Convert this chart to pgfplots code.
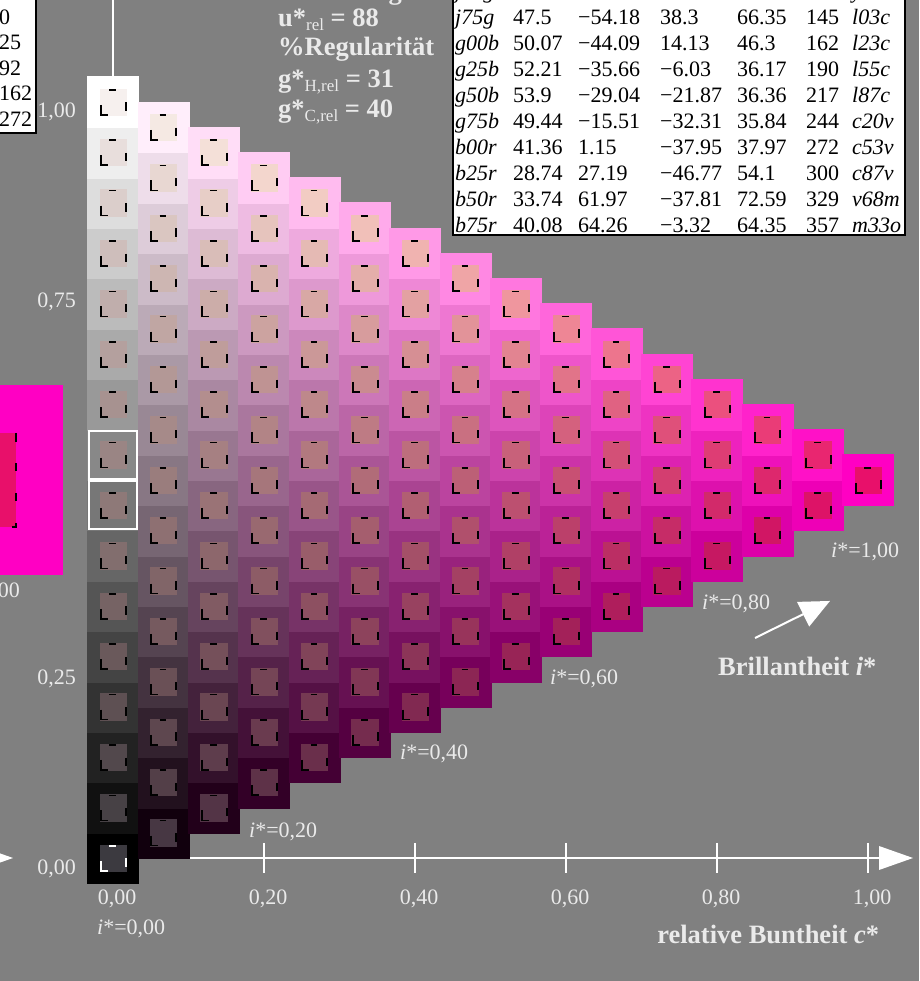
\documentclass[border=0pt]{standalone}
\usepackage{fontspec}
\setmainfont{Liberation Serif}
\usepackage{array}
\usepackage{pgfplots}
\pgfplotsset{compat=1.18}
\usepackage{pgfplotstable}
\usetikzlibrary{arrows.meta}

\definecolor{bggray}{RGB}{128,128,128}
\definecolor{magM}{RGB}{255,0,195}
\definecolor{magI}{RGB}{232,16,106}
\definecolor{txt}{RGB}{234,234,234}

\newcommand\fsA{\fontsize{22}{25.9}\selectfont}
\newcommand\fsL{\fontsize{22}{25.5}\selectfont}
\newcommand\fsB{\fontsize{26.5}{29}\selectfont\bfseries}
\newcommand\sub[1]{\raisebox{-4pt}{\fontsize{17}{17}\selectfont\mdseries #1}}

\pgfdeclareplotmark{reg}{%
  \pgfsetlinewidth{1.7pt}\pgfsetbuttcap
  \pgfpathmoveto{\pgfpoint{-3.7pt}{12.2pt}}\pgfpathlineto{\pgfpoint{3pt}{12.2pt}}%
  \pgfpathmoveto{\pgfpoint{-12pt}{-2.8pt}}\pgfpathlineto{\pgfpoint{-12pt}{-12.8pt}}\pgfpathlineto{\pgfpoint{-5pt}{-12.8pt}}%
  \pgfpathmoveto{\pgfpoint{13pt}{-0.5pt}}\pgfpathlineto{\pgfpoint{13pt}{-8.8pt}}%
  \pgfusepathqstroke
}

% cells: j = chroma step (c = j/15), u = lightness step (t = u/15)
\pgfplotstableread[row sep=\\]{
j u\\
0 0\\ 0 1\\ 0 2\\ 0 3\\ 0 4\\ 0 5\\ 0 6\\ 0 7\\ 0 8\\ 0 9\\ 0 10\\ 0 11\\ 0 12\\ 0 13\\ 0 14\\ 0 15\\
1 0.5\\ 1 1.5\\ 1 2.5\\ 1 3.5\\ 1 4.5\\ 1 5.5\\ 1 6.5\\ 1 7.5\\ 1 8.5\\ 1 9.5\\ 1 10.5\\ 1 11.5\\ 1 12.5\\ 1 13.5\\ 1 14.5\\
2 1\\ 2 2\\ 2 3\\ 2 4\\ 2 5\\ 2 6\\ 2 7\\ 2 8\\ 2 9\\ 2 10\\ 2 11\\ 2 12\\ 2 13\\ 2 14\\
3 1.5\\ 3 2.5\\ 3 3.5\\ 3 4.5\\ 3 5.5\\ 3 6.5\\ 3 7.5\\ 3 8.5\\ 3 9.5\\ 3 10.5\\ 3 11.5\\ 3 12.5\\ 3 13.5\\
4 2\\ 4 3\\ 4 4\\ 4 5\\ 4 6\\ 4 7\\ 4 8\\ 4 9\\ 4 10\\ 4 11\\ 4 12\\ 4 13\\
5 2.5\\ 5 3.5\\ 5 4.5\\ 5 5.5\\ 5 6.5\\ 5 7.5\\ 5 8.5\\ 5 9.5\\ 5 10.5\\ 5 11.5\\ 5 12.5\\
6 3\\ 6 4\\ 6 5\\ 6 6\\ 6 7\\ 6 8\\ 6 9\\ 6 10\\ 6 11\\ 6 12\\
7 3.5\\ 7 4.5\\ 7 5.5\\ 7 6.5\\ 7 7.5\\ 7 8.5\\ 7 9.5\\ 7 10.5\\ 7 11.5\\
8 4\\ 8 5\\ 8 6\\ 8 7\\ 8 8\\ 8 9\\ 8 10\\ 8 11\\
9 4.5\\ 9 5.5\\ 9 6.5\\ 9 7.5\\ 9 8.5\\ 9 9.5\\ 9 10.5\\
10 5\\ 10 6\\ 10 7\\ 10 8\\ 10 9\\ 10 10\\
11 5.5\\ 11 6.5\\ 11 7.5\\ 11 8.5\\ 11 9.5\\
12 6\\ 12 7\\ 12 8\\ 12 9\\
13 6.5\\ 13 7.5\\ 13 8.5\\
14 7\\ 14 8\\
15 7.5\\
}\cells

\begin{document}
\begin{tikzpicture}
\begin{axis}[
  width=919pt, height=981pt, scale only axis,
  xmin=-2.2452, xmax=16.0132, ymin=-2.4405, ymax=17.0238,
  hide axis, clip=true,
]
\fill[bggray] (rel axis cs:0,0) rectangle (rel axis cs:1,1);

% swatch of the neighbouring chart at the left edge
\fill[magM] (axis cs:-2.6,5.615) rectangle (axis cs:-0.993,9.385);
\fill[magI] (axis cs:-2.6,6.567) rectangle (axis cs:-1.927,8.433);
\draw[black, line width=1.7pt] (axis cs:-1.927,8.433) -- (axis cs:-1.927,8.254)
  (axis cs:-1.927,7.837) -- (axis cs:-1.927,7.679)
  (axis cs:-1.927,7.242) -- (axis cs:-1.927,7.083)
  (axis cs:-1.927,6.65) -- (axis cs:-1.927,6.567) -- (axis cs:-2.0,6.567);

% outer squares: output colours
\addplot[scatter, only marks, mark=square*, mark size=25.4pt,
  visualization depends on={x \as \cj},
  visualization depends on={y \as \cu},
  scatter/@pre marker code/.code={%
    \scope
    \pgfkeys{/pgf/fpu=false}%
    \pgfmathsetmacro\cc{\cj/15}%
    \pgfmathsetmacro\ww{(\cu-\cj/2)/15}%
    \pgfmathsetmacro\mcR{min(1,max(0,\cc+\ww))}%
    \pgfmathsetmacro\mcG{min(1,max(0,\ww))}%
    \pgfmathsetmacro\mcB{min(1,max(0,0.765*\cc+\ww))}%
    \definecolor{mc}{rgb}{\mcR,\mcG,\mcB}%
    \pgfsetcolor{mc}%
  },
  scatter/@post marker code/.code={\endscope},
] table[x=j,y=u] {\cells};

% inner squares: measured colours
\addplot[scatter, only marks, mark=square*, mark size=13.2pt,
  visualization depends on={x \as \cj},
  visualization depends on={y \as \cu},
  scatter/@pre marker code/.code={%
    \scope
    \pgfkeys{/pgf/fpu=false}%
    \pgfmathsetmacro\cc{\cj/15}%
    \pgfmathsetmacro\ww{(\cu-\cj/2)/15}%
    \pgfmathsetmacro\nn{1-\cc-\ww}%
    \pgfmathsetmacro\mcR{min(1,max(0,(\cc*232+\ww*246+\nn*60-20*\ww*\nn)/255))}%
    \pgfmathsetmacro\mcG{min(1,max(0,(\cc*16+\ww*240+\nn*58-88*\ww*\nn+120*\cc*\ww)/255))}%
    \pgfmathsetmacro\mcB{min(1,max(0,(\cc*106+\ww*238+\nn*64-100*\ww*\nn-40*\cc*\ww)/255))}%
    \definecolor{mc}{rgb}{\mcR,\mcG,\mcB}%
    \pgfsetcolor{mc}%
  },
  scatter/@post marker code/.code={\endscope},
] table[x=j,y=u] {\cells};

% registration marks
\addplot[only marks, mark=reg, black] table[x=j,y=u] {\cells};
\addplot[only marks, mark=reg, white] coordinates {(0,0)};

% frames
\addplot[only marks, mark=square, mark size=24.2pt, mark options={draw=white, line width=2pt}] coordinates {(0,7) (0,8)};

% axes
\draw[white, line width=1.3pt] (axis cs:0,15.5) -- (axis cs:0,17.3);
\draw[white, line width=2pt] (axis cs:1.5,0) -- (axis cs:15.4,0);
\fill[white] (axis cs:15.894,0) -- (axis cs:15.219,0.238) -- (axis cs:15.219,-0.238) -- cycle;
\fill[white] (axis cs:-1.987,0) -- (axis cs:-2.662,0.238) -- (axis cs:-2.662,-0.238) -- cycle;
\draw[white, line width=1.5pt] (axis cs:3,0.3) -- (axis cs:3,-0.3);
\draw[white, line width=1.5pt] (axis cs:6,0.3) -- (axis cs:6,-0.3);
\draw[white, line width=1.5pt] (axis cs:9,0.3) -- (axis cs:9,-0.3);
\draw[white, line width=1.5pt] (axis cs:12,0.3) -- (axis cs:12,-0.3);
\draw[white, line width=1.5pt] (axis cs:15,0.3) -- (axis cs:15,-0.3);

\node[anchor=base, text=txt, font=\fsA, inner sep=0] at (axis cs:0.08,-0.92) {0,00};
\node[anchor=base, text=txt, font=\fsA, inner sep=0] at (axis cs:3.08,-0.92) {0,20};
\node[anchor=base, text=txt, font=\fsA, inner sep=0] at (axis cs:6.08,-0.92) {0,40};
\node[anchor=base, text=txt, font=\fsA, inner sep=0] at (axis cs:9.08,-0.92) {0,60};
\node[anchor=base, text=txt, font=\fsA, inner sep=0] at (axis cs:12.08,-0.92) {0,80};
\node[anchor=base, text=txt, font=\fsA, inner sep=0] at (axis cs:15.08,-0.92) {1,00};

\node[anchor=base east, text=txt, font=\fsA, inner sep=0] at (axis cs:-0.735,14.69) {1,00};
\node[anchor=base east, text=txt, font=\fsA, inner sep=0] at (axis cs:-0.735,10.92) {0,75};
\node[anchor=base east, text=txt, font=\fsA, inner sep=0] at (axis cs:-0.735,3.44) {0,25};
\node[anchor=base east, text=txt, font=\fsA, inner sep=0] at (axis cs:-0.735,-0.33) {0,00};

\node[anchor=base west, text=txt, font=\fsA, inner sep=0] at (axis cs:-0.318,-1.518) {\textit{i}*=0,00};
\node[anchor=base west, text=txt, font=\fsA, inner sep=0] at (axis cs:2.702,0.407) {\textit{i}*=0,20};
\node[anchor=base west, text=txt, font=\fsA, inner sep=0] at (axis cs:5.702,1.954) {\textit{i}*=0,40};
\node[anchor=base west, text=txt, font=\fsA, inner sep=0] at (axis cs:8.682,3.442) {\textit{i}*=0,60};
\node[anchor=base west, text=txt, font=\fsA, inner sep=0] at (axis cs:11.702,4.931) {\textit{i}*=0,80};
\node[anchor=base west, text=txt, font=\fsA, inner sep=0] at (axis cs:14.265,5.962) {\textit{i}*=1,00};
\node[anchor=base east, text=txt, font=\fsA, inner sep=0] at (axis cs:-1.848,5.169) {\textit{i}*=1,00};

\draw[white, line width=2pt, -{Triangle[length=30pt, width=27pt]}] (axis cs:12.755,4.365) -- (axis cs:14.245,5.10);
\node[anchor=base west, text=txt, font=\fsB, inner sep=0] at (axis cs:12.02,3.611) {Brillantheit \textit{i}*};
\node[anchor=base west, text=txt, font=\fsB, inner sep=0] at (axis cs:10.81,-1.687) {relative Buntheit \textit{c}*};

\node[anchor=base west, text=txt, font=\fsB, inner sep=0] at (axis cs:3.278,17.04) {Bewertung};
\node[anchor=base west, text=txt, font=\fsB, inner sep=0] at (axis cs:3.278,16.49) {u*\sub{rel} = 88};
\node[anchor=base west, text=txt, font=\fsB, inner sep=0] at (axis cs:3.278,15.93) {\%Regularität};
\node[anchor=base west, text=txt, font=\fsB, inner sep=0] at (axis cs:3.278,15.28) {g*\sub{H,rel} = 31};
\node[anchor=base west, text=txt, font=\fsB, inner sep=0] at (axis cs:3.278,14.70) {g*\sub{C,rel} = 40};

% left table
\filldraw[fill=white, draw=black, line width=1.2pt] (axis cs:-2.6,14.385) rectangle (axis cs:-1.53,17.5);
\node[anchor=base west, font=\fsL, inner sep=0] at (axis cs:-2.265,14.514) {%
\begin{tabular}[b]{@{}l@{}}0\\25\\92\\162\\272\end{tabular}};

% right table
\filldraw[fill=white, draw=black, line width=1.2pt] (axis cs:6.755,12.361) rectangle (axis cs:15.735,17.5);
\node[anchor=base west, font=\fsA, inner sep=0] at (axis cs:6.795,12.42) {%
\begin{tabular}[b]{@{}p{58pt}@{}p{65pt}@{}p{82pt}@{}p{77pt}@{}p{69pt}@{}>{\raggedleft\arraybackslash}p{33pt}@{\hspace{13pt}}l@{}}
\textit{j50g} & 51.42 & −47.73 & 56.27 & 73.84 & 130 & \textit{y83l}\\
\textit{j75g} & 47.5 & −54.18 & 38.3 & 66.35 & 145 & \textit{l03c}\\
\textit{g00b} & 50.07 & −44.09 & 14.13 & 46.3 & 162 & \textit{l23c}\\
\textit{g25b} & 52.21 & −35.66 & −6.03 & 36.17 & 190 & \textit{l55c}\\
\textit{g50b} & 53.9 & −29.04 & −21.87 & 36.36 & 217 & \textit{l87c}\\
\textit{g75b} & 49.44 & −15.51 & −32.31 & 35.84 & 244 & \textit{c20v}\\
\textit{b00r} & 41.36 & 1.15 & −37.95 & 37.97 & 272 & \textit{c53v}\\
\textit{b25r} & 28.74 & 27.19 & −46.77 & 54.1 & 300 & \textit{c87v}\\
\textit{b50r} & 33.74 & 61.97 & −37.81 & 72.59 & 329 & \textit{v68m}\\
\textit{b75r} & 40.08 & 64.26 & −3.32 & 64.35 & 357 & \textit{m33o}
\end{tabular}};
\end{axis}
\pgfresetboundingbox
\useasboundingbox (current axis.south west) rectangle (current axis.north east);
\end{tikzpicture}
\end{document}
